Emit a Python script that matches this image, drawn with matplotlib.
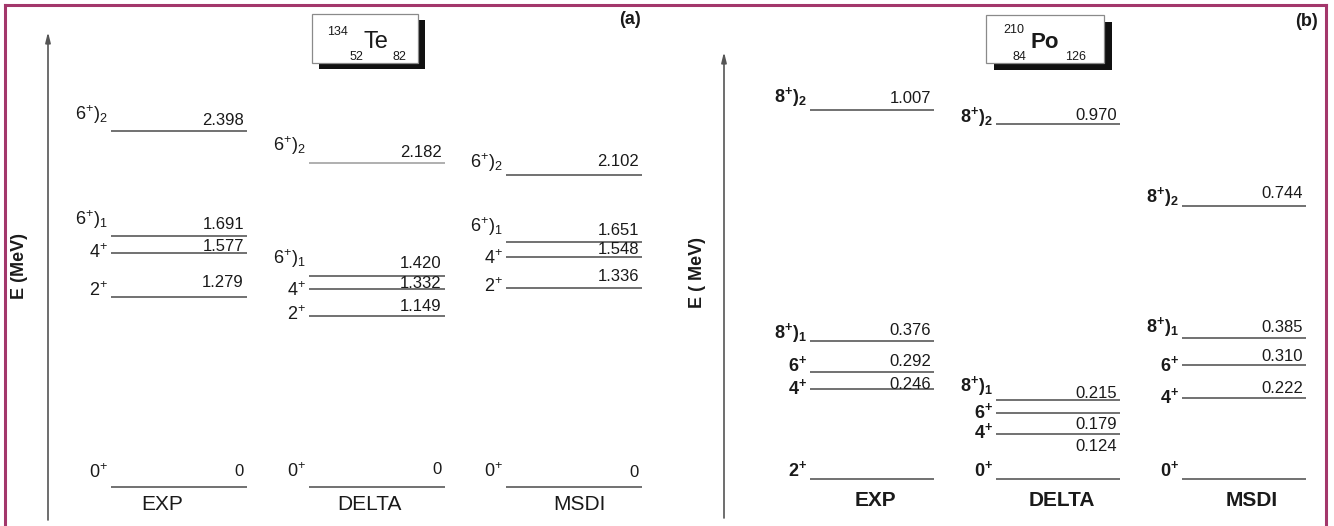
import matplotlib
matplotlib.use('Agg')
import matplotlib.pyplot as plt
from matplotlib.patches import Rectangle
from matplotlib.lines import Line2D

plt.rcParams['font.family'] = ['Liberation Sans', 'DejaVu Sans']
plt.rcParams['mathtext.fontset'] = 'custom'
plt.rcParams['mathtext.rm'] = 'Liberation Sans'
plt.rcParams['mathtext.bf'] = 'Liberation Sans:bold'
plt.rcParams['mathtext.it'] = 'Liberation Sans:italic'
plt.rcParams['mathtext.default'] = 'regular'

models = ['EXP', 'DELTA', 'MSDI']

# 134Te level energies (MeV)
te_exp = [0.0, 1.279, 1.577, 1.691, 2.398]
te_delta = [0.0, 1.149, 1.332, 1.420, 2.182]
te_msdi = [0.0, 1.336, 1.548, 1.651, 2.102]
te_spins = ['0^{+}', '2^{+}', '4^{+}', '6^{+})_{1}', '6^{+})_{2}']

# 210Po level energies (MeV)
po_exp = [0.0, 0.246, 0.292, 0.376, 1.007]
po_delta = [0.0, 0.124, 0.179, 0.215, 0.970]
po_msdi = [0.0, 0.222, 0.310, 0.385, 0.744]
po_spins_exp = ['2^{+}', '4^{+}', '6^{+}', '8^{+})_{1}', '8^{+})_{2}']
po_spins_calc = ['0^{+}', '4^{+}', '6^{+}', '8^{+})_{1}', '8^{+})_{2}']

W, H = 1334, 526
fig = plt.figure(figsize=(W / 100, H / 100), dpi=100)
fig.patch.set_facecolor('white')

LINE_C = '#4a4a4a'
TEXT_C = '#1a1a1a'


def px_x(x):
    return x / W


def px_y(y):
    return 1 - y / H


def draw_panel(ax, columns, spins, val_dy, spin_dy, half, zero_label,
               spin_size, spin_weight, name_weight, name_dx, name_dy,
               line_colors):
    for i, (levels, sp) in enumerate(zip(columns, spins)):
        for k, e in enumerate(levels):
            ax.hlines(e, i - half, i + half, color=line_colors[i][k], lw=1.1)
            if e == 0:
                txt = '0' if zero_label else None
            else:
                txt = f'{e:.3f}'
            if txt is not None:
                ax.annotate(txt, xy=(i + half, e), xytext=(-3, val_dy[i][k]),
                            textcoords='offset pixels', ha='right',
                            va='baseline', fontsize=12, color=TEXT_C)
            ax.annotate(f'${sp[k]}$', xy=(i - half, e),
                        xytext=(-3, spin_dy[i][k]), textcoords='offset pixels',
                        ha='right', va='baseline', fontsize=spin_size,
                        fontweight=spin_weight, color=TEXT_C)
        ax.annotate(models[i], xy=(i, 0), xytext=(name_dx[i], name_dy),
                    textcoords='offset pixels', ha='center', va='center',
                    fontsize=15, fontweight=name_weight, color=TEXT_C)


# ---- panel (a): 134Te ----
axA = fig.add_axes([0, 0, 664 / W, 1])
axA.set_axis_off()
axA.set_xlim(-179 / 197.5, (664 - 179) / 197.5)
axA.set_ylim((487 - 526) / 148.6, 487 / 148.6)
te_line_colors = [[LINE_C] * 5,
                  [LINE_C, LINE_C, LINE_C, LINE_C, '#9a9a9a'],
                  [LINE_C] * 5]
draw_panel(axA, [te_exp, te_delta, te_msdi], [te_spins] * 3,
           val_dy=[[11, 10, 2, 7, 6], [13, 5, 1, 8, 6], [10, 7, 3, 7, 9]],
           spin_dy=[[9, 1, -5, 11, 11], [10, -4, -7, 12, 12],
                    [10, -4, -7, 10, 7]],
           half=68 / 197.5, zero_label=True, spin_size=13,
           spin_weight='normal', name_weight='normal',
           name_dx=[-17, -7, 5], name_dy=-18, line_colors=te_line_colors)

axA.annotate('', xy=(48 / 664, 1 - 32 / H), xytext=(48 / 664, 1 - 520 / H),
             xycoords='axes fraction', textcoords='axes fraction',
             arrowprops=dict(arrowstyle='-|>,head_length=0.6,head_width=0.15',
                             color='#555555', lw=1.2, shrinkA=0, shrinkB=0))
axA.text(19 / 664, 1 - 266 / H, 'E (MeV)', transform=axA.transAxes,
         rotation=90, ha='center', va='center', fontsize=13,
         fontweight='bold', color=TEXT_C)
axA.text(630 / 664, 1 - 20 / H, '(a)', transform=axA.transAxes,
         ha='center', va='center', fontsize=13, fontweight='bold',
         color=TEXT_C)

# ---- panel (b): 210Po ----
axB = fig.add_axes([664 / W, 0, 670 / W, 1])
axB.set_axis_off()
axB.set_xlim((664 - 872) / 186, (1334 - 872) / 186)
axB.set_ylim((479 - 526) / 366.4, 479 / 366.4)
po_line_colors = [[LINE_C] * 5] * 3
draw_panel(axB, [po_exp, po_delta, po_msdi],
           [po_spins_exp, po_spins_calc, po_spins_calc],
           val_dy=[[0, 0, 6, 6, 7], [0, -17, -16, 2, 4], [0, 5, 4, 6, 8]],
           spin_dy=[[3, -5, 1, 3, 8], [3, -4, -5, 9, 2], [3, -5, -6, 6, 4]],
           half=62 / 186, zero_label=False, spin_size=13,
           spin_weight='bold', name_weight='bold',
           name_dx=[3, 4, 8], name_dy=-21, line_colors=po_line_colors)

axB.annotate('', xy=(60 / 670, 1 - 52 / H), xytext=(60 / 670, 1 - 518 / H),
             xycoords='axes fraction', textcoords='axes fraction',
             arrowprops=dict(arrowstyle='-|>,head_length=0.6,head_width=0.15',
                             color='#555555', lw=1.2, shrinkA=0, shrinkB=0))
axB.text(34 / 670, 1 - 272 / H, 'E ( MeV)', transform=axB.transAxes,
         rotation=90, ha='center', va='center', fontsize=13,
         fontweight='bold', color=TEXT_C)
axB.text(642 / 670, 1 - 22 / H, '(b)', transform=axB.transAxes,
         ha='center', va='center', fontsize=13, fontweight='bold',
         color=TEXT_C)


# ---- nuclide boxes with drop shadow ----
def nuclide_box(x0, y0, x1, y1, sdx, sdy, parts):
    fig.add_artist(Rectangle((px_x(x0 + sdx), px_y(y1 + sdy)),
                             (x1 - x0) / W, (y1 - y0) / H,
                             transform=fig.transFigure, facecolor='#111111',
                             edgecolor='none', zorder=5))
    fig.add_artist(Rectangle((px_x(x0), px_y(y1)), (x1 - x0) / W,
                             (y1 - y0) / H, transform=fig.transFigure,
                             facecolor='white', edgecolor='#8a8a8a', lw=0.9,
                             zorder=6))
    for s, x, y, size, w in parts:
        fig.text(px_x(x), px_y(y), s, ha='left', va='baseline',
                 fontsize=size, fontweight=w, color=TEXT_C, zorder=7)


nuclide_box(312, 14, 418, 63, 7, 6,
            [('134', 327, 35, 9, 'normal'), ('52', 350, 60, 9, 'normal'),
             ('Te', 363, 48, 17, 'normal'), ('82', 392, 60, 9, 'normal')])
nuclide_box(986, 15, 1104, 63, 8, 7,
            [('210', 1003, 33, 9, 'normal'), ('84', 1013, 60, 9, 'normal'),
             ('Po', 1030, 48, 16, 'bold'), ('126', 1065, 60, 9, 'normal')])

# ---- outer frame ----
FRAME_C = '#a3376b'
for xs, ys in [((5, 1326), (5, 5)), ((5, 5), (5, 526)),
               ((1326, 1326), (5, 526))]:
    fig.add_artist(Line2D([px_x(xs[0]), px_x(xs[1])],
                          [px_y(ys[0]), px_y(ys[1])],
                          transform=fig.transFigure, color=FRAME_C, lw=2.2,
                          zorder=10))

fig.savefig('out.png', dpi=100, facecolor='white')
